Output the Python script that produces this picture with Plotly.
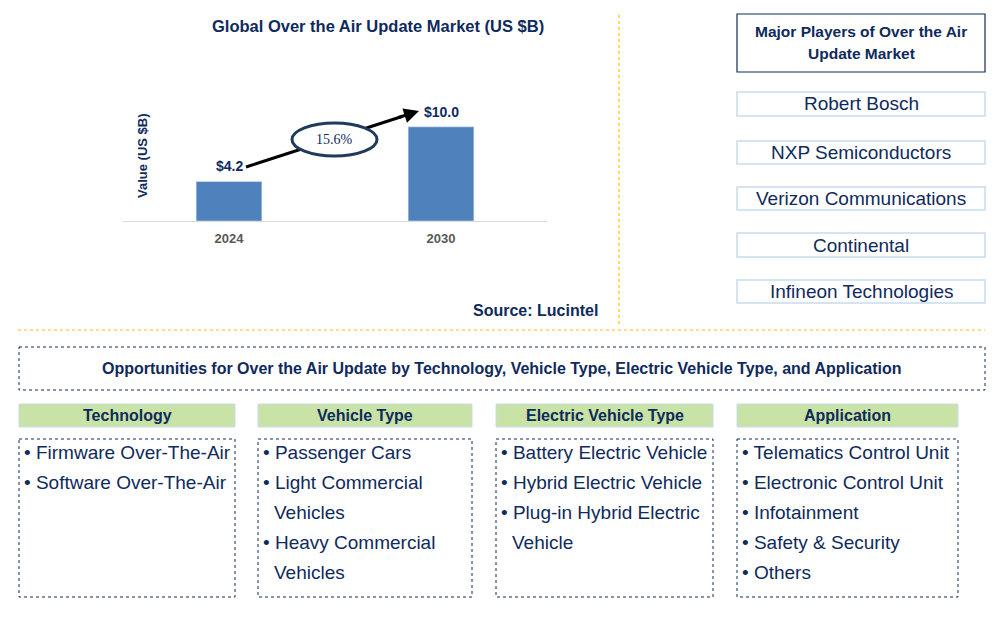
import plotly.graph_objects as go

# ---------------- data ----------------
years = ["2024", "2030"]
values = [4.2, 10.0]
value_labels = ["$4.2", "$10.0"]
cagr_label = "15.6%"
chart_title = "Global Over the Air Update Market (US $B)"
y_title = "Value (US $B)"
source_text = "Source: Lucintel"

players_title = ["Major Players of Over the Air", "Update Market"]
players = ["Robert Bosch", "NXP Semiconductors", "Verizon Communications",
           "Continental", "Infineon Technologies"]

opportunities_title = ("Opportunities for Over the Air Update by Technology, Vehicle Type, "
                       "Electric Vehicle Type, and Application")
segments = ["Technology", "Vehicle Type", "Electric Vehicle Type", "Application"]
technology_items = [["Firmware Over-The-Air"], ["Software Over-The-Air"]]
vehicle_type_items = [["Passenger Cars"], ["Light Commercial", "Vehicles"],
                      ["Heavy Commercial", "Vehicles"]]
ev_type_items = [["Battery Electric Vehicle"], ["Hybrid Electric Vehicle"],
                 ["Plug-in Hybrid Electric", "Vehicle"]]
application_items = [["Telematics Control Unit"], ["Electronic Control Unit"],
                     ["Infotainment"], ["Safety & Security"], ["Others"]]
segment_items = [technology_items, vehicle_type_items, ev_type_items, application_items]

# ---------------- layout helpers ----------------
W, H = 1005, 617
OFF = 8  # default page body margin
FW, FH = W - 2 * OFF, H - 2 * OFF
NAVY = "#0f2a5c"
FONT = "Liberation Sans, Arial, sans-serif"


def px(x):
    return (x - OFF) / FW


def py(y):
    return 1 - (y - OFF) / FH


def text_ann(x, y, text, size, bold=False, xanchor="center", color=NAVY,
             family=FONT, **kw):
    return dict(x=px(x), y=py(y), xref="paper", yref="paper",
                xanchor=xanchor, yanchor="middle",
                text=("<b>%s</b>" % text) if bold else text, showarrow=False,
                font=dict(family=family, size=size, color=color), **kw)


fig = go.Figure()
fig.add_trace(go.Bar(x=years, y=values, marker_color="#4f81bd", width=0.31,
                     hoverinfo="skip"))

shapes = []
ann = []

# value labels through data coordinates (category index)
for i, (v, lab) in enumerate(zip(values, value_labels)):
    ann.append(dict(x=i, y=v, xref="x", yref="y", text="<b>%s</b>" % lab,
                    showarrow=False, yshift=15, xanchor="center", yanchor="middle",
                    font=dict(family=FONT, size=14, color=NAVY)))

# title, axis title, source
ann.append(text_ann(378, 26, chart_title, 16.5, bold=True))
ann.append(text_ann(142, 156, y_title, 13, bold=True, textangle=-90))
ann.append(text_ann(600, 310, source_text, 16, bold=True, xanchor="right"))

# CAGR arrow + ellipse
shapes.append(dict(type="line", xref="paper", yref="paper",
                   x0=px(246), y0=py(167), x1=px(402), y1=py(116.5),
                   line=dict(color="black", width=3)))
ann.append(dict(x=px(419), y=py(111), xref="paper", yref="paper", text="",
                showarrow=True, ax=-22, ay=7, arrowhead=2, arrowsize=1,
                arrowwidth=3, arrowcolor="black"))
shapes.append(dict(type="circle", xref="paper", yref="paper",
                   x0=px(292), x1=px(377), y0=py(156), y1=py(123),
                   fillcolor="white", line=dict(color="#1f3a5a", width=3)))
ann.append(text_ann(334, 139.5, cagr_label, 14,
                    family="Liberation Serif, Times New Roman, serif"))

# separators
shapes.append(dict(type="line", xref="paper", yref="paper",
                   x0=px(619), x1=px(619), y0=py(15), y1=py(325),
                   line=dict(color="#ffc000", width=1.2, dash="dot")))
shapes.append(dict(type="line", xref="paper", yref="paper",
                   x0=px(18), x1=px(985), y0=py(330), y1=py(330),
                   line=dict(color="#ffc000", width=1.2, dash="dot")))

# players panel
shapes.append(dict(type="rect", xref="paper", yref="paper",
                   x0=px(737), x1=px(985), y0=py(14), y1=py(72),
                   line=dict(color=NAVY, width=1.2)))
for i, t in enumerate(players_title):
    ann.append(text_ann(861, 32 + 21 * i, t, 15.5, bold=True))
player_boxes = [(92, 116), (141, 164), (187, 210), (233, 257), (280, 303)]
for name, (t, b) in zip(players, player_boxes):
    shapes.append(dict(type="rect", xref="paper", yref="paper",
                       x0=px(737), x1=px(985), y0=py(t), y1=py(b),
                       line=dict(color="#c6dcef", width=1.5)))
    ann.append(text_ann(861, (t + b) / 2, name, 19))

# opportunities
shapes.append(dict(type="rect", xref="paper", yref="paper",
                   x0=px(19), x1=px(985), y0=py(347), y1=py(390),
                   line=dict(color=NAVY, width=1, dash="dot")))
ann.append(text_ann(502, 368, opportunities_title, 16, bold=True))

cols = [(19, 235), (258, 472), (496, 713), (737, 958)]
for seg, items, (x0, x1) in zip(segments, segment_items, cols):
    shapes.append(dict(type="rect", xref="paper", yref="paper",
                       x0=px(x0), x1=px(x1), y0=py(404), y1=py(427),
                       fillcolor="#c8e3a5", line=dict(color="#c6dcef", width=1)))
    ann.append(text_ann((x0 + x1) / 2, 415.5, seg, 16, bold=True))
    shapes.append(dict(type="rect", xref="paper", yref="paper",
                       x0=px(x0), x1=px(x1), y0=py(439), y1=py(597),
                       line=dict(color=NAVY, width=1, dash="dot")))
    line_no = 0
    for item in items:
        for j, txt in enumerate(item):
            if j == 0:
                ann.append(text_ann(x0 + 3, 452 + 30 * line_no, "• " + txt, 19,
                                    xanchor="left"))
            else:
                ann.append(text_ann(x0 + 14, 452 + 30 * line_no, txt, 19,
                                    xanchor="left"))
            line_no += 1

fig.update_layout(
    width=FW, height=FH, margin=dict(l=0, r=0, t=0, b=0),
    paper_bgcolor="white", plot_bgcolor="white", showlegend=False,
    xaxis=dict(domain=[px(123), px(547)], range=[-0.5, 1.5], type="category",
               showgrid=False, showline=True, linecolor="#d9d9d9", linewidth=1,
               ticks="", ticklabelstandoff=5,
               tickfont=dict(family=FONT, size=13, color="#595959", weight="bold"),
               fixedrange=True),
    yaxis=dict(domain=[py(221), py(108)], range=[0, 12], visible=False,
               showgrid=False, fixedrange=True),
    shapes=shapes, annotations=ann,
)

fig.write_html("out.html")
